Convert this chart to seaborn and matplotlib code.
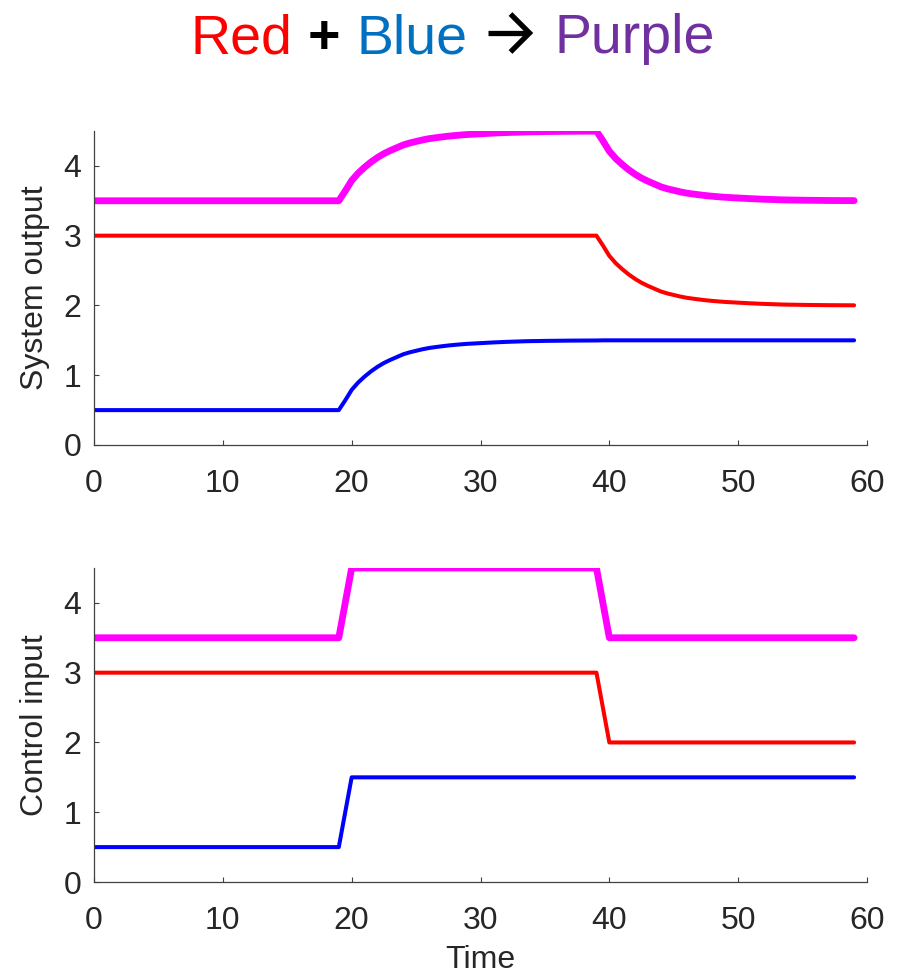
import numpy as np
import pandas as pd
import matplotlib
matplotlib.use('Agg')
import matplotlib.pyplot as plt
from matplotlib.lines import Line2D
import seaborn as sns

# ── Data ──────────────────────────────────────────────────────────────────────
# system output is sampled every half time unit, control input every unit
time_out = np.arange(0, 59.5, 0.5)
time_in = list(range(60))

blue_out = [0.5] * 39 + [
    0.64, 0.79, 0.895, 0.98, 1.055, 1.12, 1.175, 1.22, 1.26, 1.30,
    1.328, 1.35, 1.372, 1.39, 1.403, 1.415, 1.426, 1.435, 1.443, 1.45,
    1.455, 1.46, 1.465, 1.47, 1.474, 1.478, 1.481, 1.484, 1.487, 1.489,
    1.490, 1.492, 1.493, 1.494, 1.495, 1.496, 1.4965, 1.497, 1.4975, 1.498,
] + [1.5] * 40
red_out = [3.0] * 79 + [
    2.86, 2.71, 2.605, 2.52, 2.445, 2.38, 2.325, 2.28, 2.24, 2.20,
    2.172, 2.15, 2.128, 2.11, 2.097, 2.085, 2.074, 2.065, 2.057, 2.05,
    2.045, 2.04, 2.035, 2.03, 2.026, 2.022, 2.019, 2.016, 2.013, 2.011,
    2.010, 2.008, 2.007, 2.006, 2.005, 2.004, 2.0035, 2.003, 2.0025, 2.002,
]
purple_out = [3.5] * 39 + [
    3.64, 3.79, 3.895, 3.98, 4.055, 4.12, 4.175, 4.22, 4.26, 4.30,
    4.328, 4.35, 4.372, 4.39, 4.403, 4.415, 4.426, 4.435, 4.443, 4.45,
    4.455, 4.46, 4.465, 4.47, 4.474, 4.478, 4.481, 4.484, 4.487, 4.489,
    4.490, 4.492, 4.493, 4.494, 4.495, 4.496, 4.4965, 4.497, 4.4975, 4.498,
] + [
    4.36, 4.21, 4.105, 4.02, 3.945, 3.88, 3.825, 3.78, 3.74, 3.70,
    3.672, 3.65, 3.628, 3.61, 3.597, 3.585, 3.574, 3.565, 3.557, 3.55,
    3.545, 3.54, 3.535, 3.53, 3.526, 3.522, 3.519, 3.516, 3.513, 3.511,
    3.510, 3.508, 3.507, 3.506, 3.505, 3.504, 3.5035, 3.503, 3.5025, 3.502,
]

blue_in = [0.5] * 20 + [1.5] * 40
red_in = [3.0] * 40 + [2.0] * 20
purple_in = [3.5] * 20 + [4.5] * 20 + [3.5] * 20

x_ticks = [0, 10, 20, 30, 40, 50, 60]
y_ticks = [0, 1, 2, 3, 4]

# None marks the place of the drawn arrow
title_parts = [('Red', '#FF0000', 'normal'), ('+', 'black', 'bold'),
               ('Blue', '#0070C0', 'normal'), (None, 'black', 'bold'),
               ('Purple', '#7030A0', 'normal')]

# ── Style ─────────────────────────────────────────────────────────────────────
sns.set_style('ticks')
plt.rcParams['font.family'] = ['Liberation Sans', 'DejaVu Sans']
AX_COLOR = '#404040'
TXT_COLOR = '#262626'

fig = plt.figure(figsize=(9.01, 9.77), dpi=100)
W, H = 901, 977
left, width = 94 / W, 773 / W
ax_top = fig.add_axes([left, 1 - 445 / H, width, 314 / H])
ax_bot = fig.add_axes([left, 1 - 882 / H, width, 314 / H])

panels = [
    (ax_top, 'System output', time_out, purple_out, red_out, blue_out),
    (ax_bot, 'Control input', time_in, purple_in, red_in, blue_in),
]

for ax, ylabel, t, purple, red, blue in panels:
    df = pd.DataFrame({'time': t, 'purple': purple, 'red': red, 'blue': blue})
    sns.lineplot(data=df, x='time', y='purple', ax=ax, color='#FF00FF', linewidth=4.9)
    sns.lineplot(data=df, x='time', y='red', ax=ax, color='#FF0000', linewidth=2.9)
    sns.lineplot(data=df, x='time', y='blue', ax=ax, color='#0000FF', linewidth=2.9)

    ax.set_xlim(0, 60)
    ax.set_ylim(0, 4.5)
    ax.set_xticks(x_ticks)
    ax.set_yticks(y_ticks)
    sns.despine(ax=ax)
    for side in ['left', 'bottom']:
        ax.spines[side].set_color(AX_COLOR)
        ax.spines[side].set_linewidth(0.9)
    ax.tick_params(axis='both', direction='in', length=3.6, width=0.8,
                   color=AX_COLOR, labelcolor=TXT_COLOR, labelsize=23)
    ax.tick_params(axis='x', pad=17)
    ax.tick_params(axis='y', pad=9)
    ax.set_ylabel(ylabel, fontsize=23, color=TXT_COLOR)
    ax.yaxis.set_label_coords(-0.057, 0.5)
    ax.set_xlabel('')

ax_bot.set_xlabel('Time', fontsize=23, color=TXT_COLOR)
ax_bot.xaxis.set_label_coords(0.5, -0.2)

# ── Coloured title ────────────────────────────────────────────────────────────
renderer = fig.canvas.get_renderer()
baseline = 1 - 53 / H
gaps = [16, 16, 20, 22]
arrow_w = 45
texts, widths = [], []
for s, c, fw in title_parts:
    if s is None:
        texts.append(None)
        widths.append(arrow_w)
        continue
    txt = fig.text(0, baseline, s, color=c, fontsize=40, fontweight=fw, va='baseline')
    texts.append(txt)
    widths.append(txt.get_window_extent(renderer).width)

x = (W - (sum(widths) + sum(gaps))) / 2 + 2
for i, (txt, w) in enumerate(zip(texts, widths)):
    if txt is None:
        # chevron arrow like the Wingdings one in the reference
        y_mid, half = 33, 19
        tip = x + w - 3
        shaft = Line2D([x / W, (tip - 2) / W], [1 - y_mid / H, 1 - y_mid / H],
                       transform=fig.transFigure, color='black', lw=3.8,
                       solid_capstyle='butt')
        head = Line2D([(tip - 19) / W, tip / W, (tip - 19) / W],
                      [1 - (y_mid - half) / H, 1 - y_mid / H, 1 - (y_mid + half) / H],
                      transform=fig.transFigure, color='black', lw=3.8,
                      solid_joinstyle='miter', solid_capstyle='butt')
        fig.add_artist(shaft)
        fig.add_artist(head)
    else:
        txt.set_x(x / W)
    x += w + (gaps[i] if i < len(gaps) else 0)

fig.savefig('out.png', dpi=100)
